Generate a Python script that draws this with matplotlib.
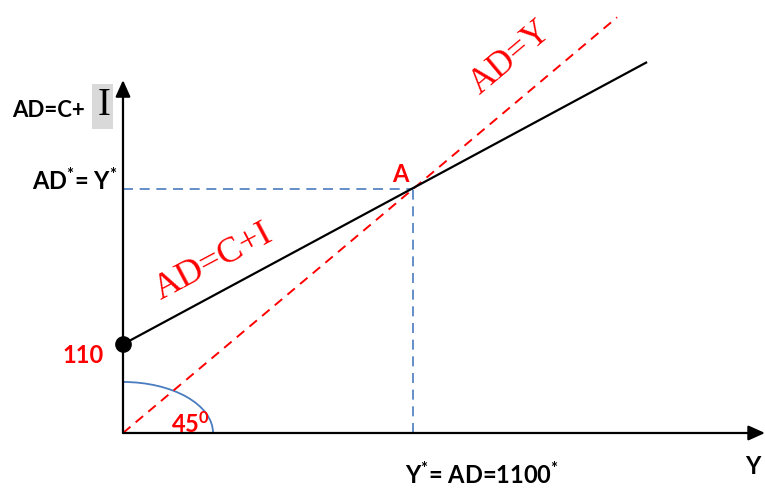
import matplotlib.pyplot as plt
from matplotlib.patches import Arc, Rectangle

plt.rcParams['mathtext.default'] = 'regular'

# model values (drawn units)
autonomous = 400      # drawn height of the intercept, labelled 110
mpc = 0.64            # slope of AD=C+I
y_star = 1100         # equilibrium income used for the guide lines
ad_end = 1984         # where the AD=C+I line stops
diag_end = 1874       # where the 45-degree line stops
y_axis_top = 1591
x_axis_end = 2435
arc_w, arc_h = 683, 460

xs_ad = [0, ad_end]
ys_ad = [autonomous + mpc * x for x in xs_ad]
xs_diag = [0, diag_end]

fig = plt.figure(figsize=(7.65, 4.88), dpi=100)
ax = fig.add_axes([0, 0, 1, 1])
ax.set_xlim(-466.5, 2435)
ax.set_ylim(-248, 1952)
ax.axis('off')

red = '#ff0000'
blue = '#4a7cc0'

# axes with arrows
arrow = dict(arrowstyle='-|>,head_length=1.0,head_width=0.45', color='black', lw=1.6,
             shrinkA=0, shrinkB=0)
ax.annotate('', xy=(0, y_axis_top), xytext=(0, 0), arrowprops=arrow)
ax.annotate('', xy=(x_axis_end, 0), xytext=(0, 0), arrowprops=arrow)

# guide lines
ax.plot([0, y_star], [y_star, y_star], color=blue, lw=1.2, ls=(0, (6, 4)))
ax.plot([y_star, y_star], [0, y_star], color=blue, lw=1.2, ls=(0, (6, 4)))

# 45 degree line and AD line
ax.plot(xs_diag, xs_diag, color=red, lw=1.4, ls=(0, (5, 3.5)))
ax.plot(xs_ad, ys_ad, color='black', lw=1.6)
ax.plot([0], [autonomous], 'o', color='black', ms=11, clip_on=False)

# angle arc
ax.add_patch(Arc((0, 0), arc_w, arc_h, theta1=0, theta2=90, color=blue, lw=1.3))

bold = dict(family='Lato', fontweight='bold')
ax.text(-420, 1452, 'AD=C+', fontsize=16, color='black', va='center', ha='left', **bold)
ax.add_patch(Rectangle((-118, 1370), 80, 203, color='#d9d9d9', lw=0))
ax.text(-72, 1478, 'I', fontsize=28, family='Liberation Serif',
        color='black', va='center', ha='center')
ax.text(-345, 1135, r'AD$^{*}$= Y$^{*}$', fontsize=17, color='black', va='center', ha='left', **bold)
ax.text(-152, 350, '110', fontsize=17, color=red, va='center', ha='center', **bold)
ax.text(255, 40, r'45$^{0}$', fontsize=17, color=red, va='center', ha='center', **bold)
ax.text(1050, 1165, 'A', fontsize=17, color=red, va='center', ha='center', **bold)
ax.text(1360, -190, r'Y$^{*}$= AD=1100$^{*}$', fontsize=17, color='black', va='center',
        ha='center', **bold)
ax.text(2390, -150, 'Y', fontsize=17, color='black', va='center', ha='center', **bold)

ax.text(345, 770, 'AD=C+I', fontsize=26, family='Liberation Serif', color=red,
        rotation=28, rotation_mode='anchor', va='center', ha='center')
ax.text(1470, 1690, 'AD=Y', fontsize=25, family='Liberation Serif', color=red,
        rotation=40, rotation_mode='anchor', va='center', ha='center')

plt.savefig('out.png', dpi=100)
